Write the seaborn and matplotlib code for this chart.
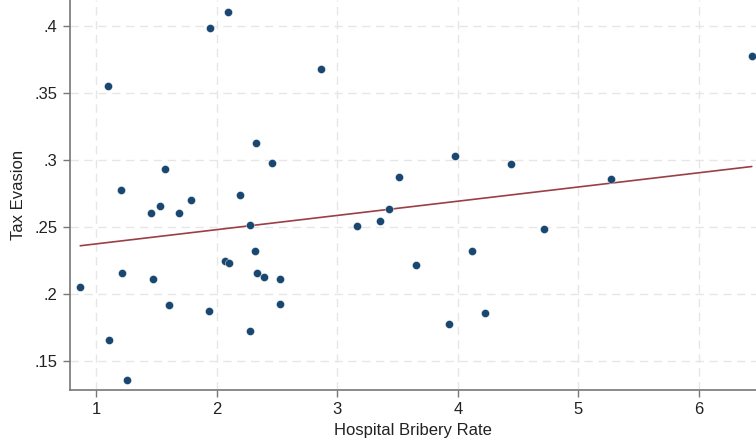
import matplotlib
matplotlib.use("Agg")
import matplotlib.pyplot as plt
import seaborn as sns
import numpy as np
import pandas as pd

bribery = [1.095, 1.944, 2.096, 2.865, 1.205, 1.568, 2.325, 2.456, 2.195, 1.454,
           1.531, 1.686, 1.786, 2.276, 3.166, 3.357, 3.432, 3.515, 3.974, 4.439,
           5.274, 6.44, 0.867, 1.213, 1.473, 1.603, 1.105, 1.252, 1.935, 2.066,
           2.101, 2.315, 2.331, 2.392, 2.527, 2.522, 2.276, 3.653, 4.118, 4.713,
           3.924, 4.228]
evasion = [0.3557, 0.3987, 0.411, 0.3679, 0.2778, 0.2937, 0.3131, 0.2978, 0.2743, 0.2609,
           0.2659, 0.2609, 0.2706, 0.2515, 0.251, 0.2549, 0.2634, 0.2873, 0.3032, 0.2972,
           0.2861, 0.3778, 0.2052, 0.2161, 0.2114, 0.192, 0.1661, 0.1358, 0.1878, 0.2249,
           0.2236, 0.2323, 0.2161, 0.2131, 0.2112, 0.1925, 0.1726, 0.2219, 0.2326, 0.249,
           0.1776, 0.1858]

xticks = [1, 2, 3, 4, 5, 6]
yticks = [0.15, 0.2, 0.25, 0.3, 0.35, 0.4]
ytick_labels = [".15", ".2", ".25", ".3", ".35", ".4"]

df = pd.DataFrame({"Hospital Bribery Rate": bribery, "Tax Evasion": evasion})

sns.set_theme(style="white")
plt.rcParams["font.family"] = ["Liberation Sans", "DejaVu Sans"]

fig = plt.figure(figsize=(7.56, 4.45), dpi=100)
ax = fig.add_axes([70 / 756, 55 / 445, 686 / 756, 390 / 445])

ax.grid(True, color="#e6e6e6", linestyle=(0, (6, 4)), linewidth=1.0)
ax.set_axisbelow(True)

sns.regplot(data=df, x="Hospital Bribery Rate", y="Tax Evasion", ci=None, ax=ax,
            scatter_kws=dict(color="#1a476f", s=34, alpha=1, edgecolors="white",
                             linewidths=0.3, zorder=3),
            line_kws=dict(color="#9a3f46", linewidth=1.2, zorder=2))

ax.set_xlim(0.782, 6.475)
ax.set_ylim(0.1286, 0.4196)
ax.set_xticks(xticks)
ax.set_yticks(yticks)
ax.set_yticklabels(ytick_labels)
ax.tick_params(axis="both", which="both", direction="out", length=5, width=1,
               color="#777777", labelsize=12, labelcolor="#222222", pad=4)
ax.tick_params(bottom=True, left=True)
ax.set_xlabel("Hospital Bribery Rate", fontsize=12, color="#222222", labelpad=4)
ax.set_ylabel("Tax Evasion", fontsize=12, color="#222222", labelpad=6)

for s in ["top", "right"]:
    ax.spines[s].set_visible(False)
for s in ["left", "bottom"]:
    ax.spines[s].set_color("#777777")
    ax.spines[s].set_linewidth(1.2)

fig.savefig("out.png", dpi=100)
